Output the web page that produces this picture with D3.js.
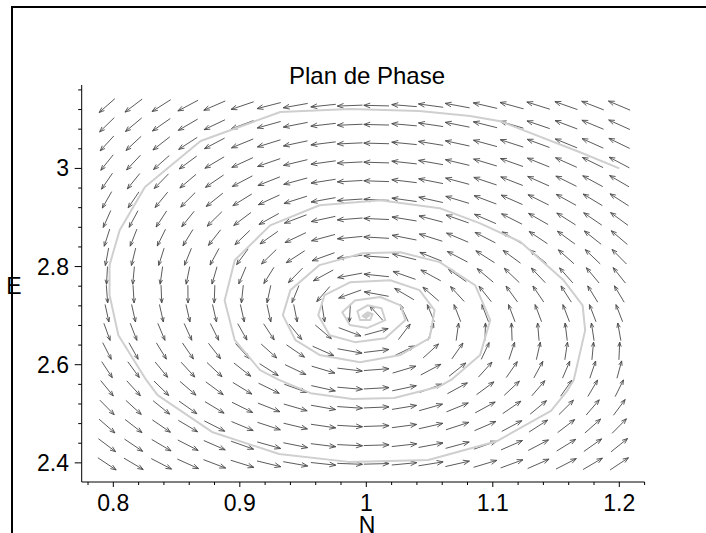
<!DOCTYPE html>
<html>
<head>
<meta charset="utf-8">
<script src="https://cdn.jsdelivr.net/npm/d3@7"></script>
<style>
  body { margin: 0; background: #fff; }
  svg text { font-family: "Liberation Sans", Arial, sans-serif; fill: #000; }
</style>
</head>
<body>
<svg id="chart" width="706" height="533"></svg>
<script>
// grid of the direction field
var gridN = [0.795, 0.816, 0.838, 0.859, 0.880, 0.902, 0.923, 0.944, 0.966, 0.987,
             1.008, 1.030, 1.051, 1.072, 1.094, 1.115, 1.136, 1.158, 1.179, 1.200];
var gridE = [2.398, 2.436, 2.475, 2.513, 2.552, 2.590, 2.628, 2.667, 2.705, 2.744,
             2.782, 2.820, 2.859, 2.897, 2.936, 2.974, 3.012, 3.051, 3.089, 3.128];

// system N' = N(a - b N - c E), E' = d E (N - 1)
var sysA = 3.02, sysB = 0.32, sysC = 1.0, sysD = 1.02;

// trajectory, starting at (1.2, 3)
var trajN = [1.200,1.169,1.106,1.082,1.042,0.987,0.932,0.869,0.825,0.805,0.797,0.797,0.804,0.826,0.835,0.878,
             0.931,0.986,1.049,1.103,1.146,1.158,1.164,1.173,1.171,1.156,1.122,1.090,1.058,1.011,0.963,0.924,
             0.896,0.888,0.896,0.916,0.931,0.956,0.989,1.022,1.057,1.067,1.090,1.098,1.086,1.058,1.027,0.997,
             0.963,0.940,0.934,0.944,0.963,0.995,1.027,1.050,1.054,1.042,1.019,0.987,0.967,0.962,0.971,0.991,
             1.015,1.031,1.027,1.011,0.991,0.981,0.987,1.001,1.015,1.012,1.001,0.993,0.995,1.003,1.005,1.001,
             0.997,1.000,1.001,1.003,1.002,0.999,0.998,1.000,1.002,1.001,0.999,1.000];
var trajE = [3.000,3.033,3.096,3.107,3.117,3.121,3.115,3.056,2.962,2.874,2.803,2.742,2.660,2.569,2.538,2.463,
             2.418,2.402,2.406,2.444,2.506,2.544,2.569,2.670,2.721,2.772,2.850,2.888,2.919,2.935,2.925,2.884,
             2.813,2.731,2.650,2.589,2.569,2.542,2.530,2.532,2.555,2.569,2.620,2.691,2.762,2.809,2.829,2.827,
             2.803,2.752,2.701,2.650,2.620,2.605,2.620,2.654,2.711,2.752,2.772,2.768,2.742,2.701,2.660,2.646,
             2.654,2.691,2.721,2.738,2.731,2.707,2.681,2.675,2.691,2.715,2.721,2.709,2.691,2.691,2.703,2.707,
             2.699,2.695,2.701,2.704,2.699,2.697,2.700,2.703,2.702,2.698,2.699,2.701];

var xTicks = [0.8, 0.9, 1, 1.1, 1.2];
var yTicks = [2.4, 2.6, 2.8, 3];
var xMinor = d3.range(0.78, 1.2201, 0.02);
var yMinor = d3.range(2.40, 3.1601, 0.04);

var svg = d3.select("#chart");

var x = d3.scaleLinear().domain([0.775, 1.22]).range([81.7, 644.6]);
var y = d3.scaleLinear().domain([2.361, 3.17]).range([482, 85]);

// frame
svg.append("rect")
  .attr("x", 12).attr("y", 7)
  .attr("width", 900).attr("height", 900)
  .attr("fill", "none")
  .attr("stroke", "#000")
  .attr("stroke-width", 2);

// title
svg.append("text")
  .attr("x", 367).attr("y", 84)
  .attr("text-anchor", "middle")
  .style("font-size", "24px")
  .text("Plan de Phase");

// direction field
var hN = gridN[1] - gridN[0], hE = gridE[1] - gridE[0];
var field = svg.append("g")
  .attr("stroke", "#484848")
  .attr("stroke-width", 0.9)
  .attr("fill", "none");

gridE.forEach(function(e){
  gridN.forEach(function(n){
    var dn = n * (sysA - sysB * n - sysC * e);
    var de = sysD * e * (n - 1);
    var u = dn / hN, v = de / hE;
    var len = Math.sqrt(u * u + v * v);
    if (len === 0) return;
    u = u / len * 0.95; v = v / len * 0.95;
    var x0 = x(n - u * hN / 2), y0 = y(e - v * hE / 2);
    var x1 = x(n + u * hN / 2), y1 = y(e + v * hE / 2);
    var ang = Math.atan2(y1 - y0, x1 - x0);
    var L = Math.sqrt((x1 - x0) * (x1 - x0) + (y1 - y0) * (y1 - y0));
    var hl = L * 0.27, ha = 0.36;
    var p = "M" + x0 + "," + y0 + "L" + x1 + "," + y1 +
      "M" + (x1 - hl * Math.cos(ang - ha)) + "," + (y1 - hl * Math.sin(ang - ha)) +
      "L" + x1 + "," + y1 +
      "L" + (x1 - hl * Math.cos(ang + ha)) + "," + (y1 - hl * Math.sin(ang + ha));
    field.append("path").attr("d", p);
  });
});

// trajectory
var pts = trajN.map(function(n, i){ return [n, trajE[i]]; });
svg.append("path")
  .datum(pts)
  .attr("fill", "none")
  .attr("stroke", "#cfcfcf")
  .attr("stroke-width", 2)
  .attr("stroke-linejoin", "round")
  .attr("d", d3.line().x(function(d){ return x(d[0]); }).y(function(d){ return y(d[1]); }));

// axes
var axes = svg.append("g").attr("stroke", "#000").attr("stroke-width", 1);
axes.append("line").attr("x1", x.range()[0]).attr("x2", x.range()[1]).attr("y1", 482).attr("y2", 482);
axes.append("line").attr("x1", 81.7).attr("x2", 81.7).attr("y1", 85).attr("y2", 482);

xMinor.forEach(function(t){
  var major = xTicks.some(function(m){ return Math.abs(m - t) < 1e-6; });
  axes.append("line").attr("x1", x(t)).attr("x2", x(t))
    .attr("y1", 482).attr("y2", 482 + (major ? 5 : 3));
});
yMinor.forEach(function(t){
  var major = yTicks.some(function(m){ return Math.abs(m - t) < 1e-6; });
  axes.append("line").attr("y1", y(t)).attr("y2", y(t))
    .attr("x1", 81.7).attr("x2", 81.7 - (major ? 7 : 3.5));
});

svg.selectAll(".xl").data(xTicks).enter().append("text")
  .attr("x", function(d){ return x(d); })
  .attr("y", 511)
  .attr("text-anchor", "middle")
  .style("font-size", "23px")
  .text(function(d){ return d; });

svg.selectAll(".yl").data(yTicks).enter().append("text")
  .attr("x", 69)
  .attr("y", function(d){ return y(d) + 8; })
  .attr("text-anchor", "end")
  .style("font-size", "23px")
  .text(function(d){ return d; });

svg.append("text").attr("x", 367).attr("y", 533)
  .attr("text-anchor", "middle").style("font-size", "23px").text("N");
svg.append("text").attr("x", 14).attr("y", 294)
  .attr("text-anchor", "middle").style("font-size", "23px").text("E");
</script>
</body>
</html>
